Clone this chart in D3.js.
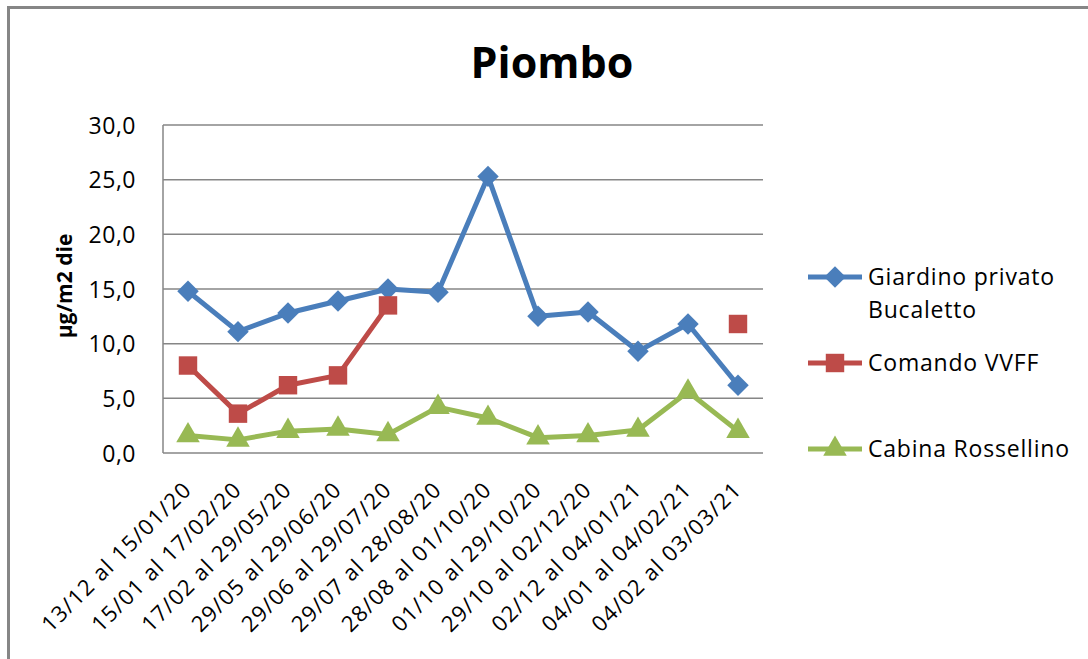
<!DOCTYPE html>
<html>
<head>
<meta charset="utf-8">
<script src="https://cdn.jsdelivr.net/npm/d3@7"></script>
<style>
  body { margin: 0; background: #fff; }
  svg { display: block; }
  text { font-family: "Open Sans", "Noto Sans", sans-serif; fill: #000; }
</style>
</head>
<body>
<svg id="chart" width="1088" height="659"></svg>
<script>
// data
var periods = ["13/12 al 15/01/20", "15/01 al 17/02/20", "17/02 al 29/05/20", "29/05 al 29/06/20",
  "29/06 al 29/07/20", "29/07 al 28/08/20", "28/08 al 01/10/20", "01/10 al 29/10/20",
  "29/10 al 02/12/20", "02/12 al 04/01/21", "04/01 al 04/02/21", "04/02 al 03/03/21"];
var giardino = [14.8, 11.1, 12.8, 13.9, 15.0, 14.7, 25.3, 12.5, 12.9, 9.3, 11.8, 6.2];
var comando = [8.0, 3.6, 6.2, 7.1, 13.5, null, null, null, null, null, null, 11.8];
var cabina = [1.6, 1.2, 2.0, 2.2, 1.7, 4.2, 3.2, 1.4, 1.6, 2.1, 5.6, 2.0];
var yTicks = [0, 5, 10, 15, 20, 25, 30];

var series = [
  { name: ["Giardino privato", "Bucaletto"], values: giardino, color: "#4a7ebb", shape: d3.symbolSquare, size: 230, rot: 45, ly: 277 },
  { name: ["Comando VVFF"], values: comando, color: "#be4b48", shape: d3.symbolSquare, size: 340, rot: 0, ly: 363 },
  { name: ["Cabina Rossellino"], values: cabina, color: "#98b954", shape: d3.symbolTriangle, size: 240, rot: 0, ly: 449 }
];

var svg = d3.select("#chart");
var plotLeft = 163, plotRight = 763, plotTop = 125, plotBottom = 453;

// outer frame
svg.append("path")
  .attr("d", "M8.5,1100 L8.5,7.5 L1100,7.5")
  .attr("fill", "none").attr("stroke", "#868686").attr("stroke-width", 3);

svg.append("text")
  .attr("x", 552).attr("y", 78)
  .attr("text-anchor", "middle")
  .style("font-size", "43px").style("font-weight", "bold")
  .text("Piombo");

var x = d3.scaleBand().domain(periods).range([plotLeft, plotRight]);
var y = d3.scaleLinear().domain([0, 30]).range([plotBottom, plotTop]);

// grid
svg.append("g").selectAll("line").data(yTicks).enter().append("line")
  .attr("x1", plotLeft).attr("x2", plotRight)
  .attr("y1", function(d) { return y(d); }).attr("y2", function(d) { return y(d); })
  .attr("stroke", "#868686").attr("stroke-width", 1.5);

svg.append("line")
  .attr("x1", plotLeft).attr("x2", plotLeft).attr("y1", plotTop).attr("y2", plotBottom)
  .attr("stroke", "#868686").attr("stroke-width", 1.5);

// y axis labels
var yAxis = svg.append("g")
  .attr("transform", "translate(" + plotLeft + ",0)")
  .call(d3.axisLeft(y).tickValues(yTicks).tickSize(0).tickPadding(27)
    .tickFormat(function(d) { return d3.format(".1f")(d).replace(".", ","); }));
yAxis.select(".domain").remove();
yAxis.selectAll("text").style("font-size", "23px").style("font-family", "\"Open Sans\", sans-serif")
  .style("letter-spacing", "0.5px").attr("dy", "0.35em");

svg.append("text")
  .attr("transform", "translate(72,286) rotate(-90)")
  .attr("text-anchor", "middle")
  .style("font-size", "21px").style("font-weight", "bold")
  .text("µg/m2 die");

// x axis labels
var xAxis = svg.append("g")
  .attr("transform", "translate(0," + plotBottom + ")")
  .call(d3.axisBottom(x).tickSize(0).tickPadding(0));
xAxis.select(".domain").remove();
xAxis.selectAll("text")
  .style("font-size", "22px").style("font-family", "\"Open Sans\", sans-serif")
  .style("letter-spacing", "1.3px")
  .attr("text-anchor", "end")
  .attr("dy", null).attr("y", 0)
  .attr("transform", "translate(5,38) rotate(-45)");

var cx = function(i) { return x(periods[i]) + x.bandwidth() / 2; };

var line = d3.line()
  .defined(function(d) { return d != null; })
  .x(function(d, i) { return cx(i); })
  .y(function(d) { return y(d); });

series.forEach(function(s) {
  svg.append("path")
    .datum(s.values)
    .attr("d", line)
    .attr("fill", "none").attr("stroke", s.color).attr("stroke-width", 5)
    .attr("stroke-linejoin", "round");
  var sym = d3.symbol().type(s.shape).size(s.size);
  svg.append("g").selectAll("path")
    .data(s.values.map(function(v, i) { return { v: v, i: i }; }).filter(function(d) { return d.v != null; }))
    .enter().append("path")
    .attr("d", sym)
    .attr("transform", function(d) { return "translate(" + cx(d.i) + "," + y(d.v) + ") rotate(" + s.rot + ")"; })
    .attr("fill", s.color);

  // legend
  var g = svg.append("g").attr("transform", "translate(0," + s.ly + ")");
  g.append("line").attr("x1", 808).attr("x2", 862).attr("y1", 0).attr("y2", 0)
    .attr("stroke", s.color).attr("stroke-width", 5);
  g.append("path").attr("d", sym).attr("transform", "translate(835,0) rotate(" + s.rot + ")").attr("fill", s.color);
  s.name.forEach(function(t, k) {
    g.append("text").attr("x", 868).attr("y", k * 33).attr("dy", "0.35em")
      .style("font-size", "23px").style("letter-spacing", "0.8px").text(t);
  });
});
</script>
</body>
</html>
